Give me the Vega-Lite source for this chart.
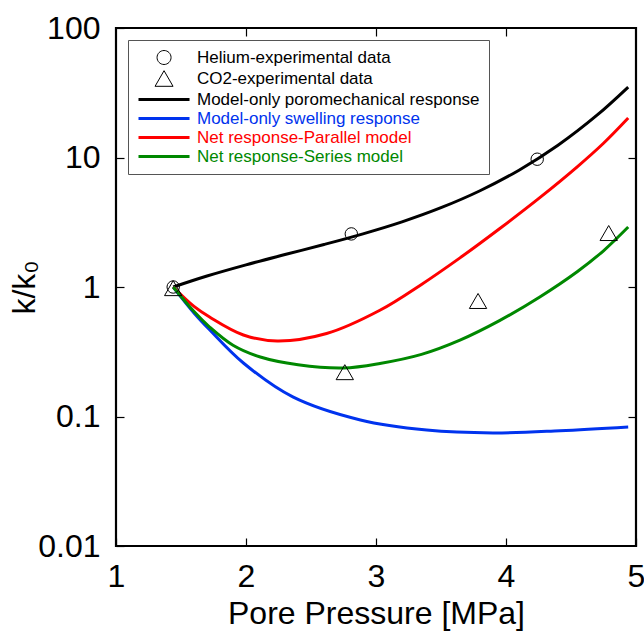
{
  "$schema": "https://vega.github.io/schema/vega-lite/v6.json",
  "width": 520,
  "height": 518,
  "autosize": "none",
  "padding": {"left": 116, "top": 28, "right": 8, "bottom": 87},
  "background": "white",
  "config": {
    "view": {"stroke": "black", "strokeWidth": 2.2},
    "font": "Liberation Sans",
    "axis": {
      "grid": false, "domain": false, "tickColor": "black", "tickWidth": 1.2,
      "labelColor": "black", "titleColor": "black",
      "labelFont": "Liberation Sans", "titleFont": "Liberation Sans",
      "labelFontSize": 32, "titleFontSize": 32, "titleFontWeight": "normal",
      "labelFlush": false, "labelOverlap": false
    },
    "legend": {
      "orient": "top-left", "offset": 12, "padding": 9,
      "strokeColor": "#555", "fillColor": "white",
      "symbolSize": 196, "labelFontSize": 17, "labelFont": "Liberation Sans",
      "labelOffset": 43, "rowPadding": 1, "labelLimit": 400
    }
  },
  "datasets": {
    "curves": [
      {"series": "Model-only poromechanical response", "p": 1.44, "k": 1.0},
      {"series": "Model-only poromechanical response", "p": 1.7, "k": 1.216},
      {"series": "Model-only poromechanical response", "p": 2.0, "k": 1.483},
      {"series": "Model-only poromechanical response", "p": 2.3, "k": 1.78},
      {"series": "Model-only poromechanical response", "p": 2.6, "k": 2.129},
      {"series": "Model-only poromechanical response", "p": 2.9, "k": 2.574},
      {"series": "Model-only poromechanical response", "p": 3.2, "k": 3.185},
      {"series": "Model-only poromechanical response", "p": 3.5, "k": 4.096},
      {"series": "Model-only poromechanical response", "p": 3.8, "k": 5.536},
      {"series": "Model-only poromechanical response", "p": 4.1, "k": 7.98},
      {"series": "Model-only poromechanical response", "p": 4.4, "k": 12.43},
      {"series": "Model-only poromechanical response", "p": 4.7, "k": 21.21},
      {"series": "Model-only poromechanical response", "p": 4.94, "k": 35.0},
      {"series": "Model-only swelling response", "p": 1.44, "k": 1.0},
      {"series": "Model-only swelling response", "p": 1.6, "k": 0.631},
      {"series": "Model-only swelling response", "p": 1.72, "k": 0.468},
      {"series": "Model-only swelling response", "p": 1.98, "k": 0.259},
      {"series": "Model-only swelling response", "p": 2.36, "k": 0.1416},
      {"series": "Model-only swelling response", "p": 2.88, "k": 0.094},
      {"series": "Model-only swelling response", "p": 3.39, "k": 0.0785},
      {"series": "Model-only swelling response", "p": 3.9, "k": 0.0746},
      {"series": "Model-only swelling response", "p": 4.415, "k": 0.0776},
      {"series": "Model-only swelling response", "p": 4.94, "k": 0.083},
      {"series": "Net response-Parallel model", "p": 1.44, "k": 1.0},
      {"series": "Net response-Parallel model", "p": 1.6, "k": 0.708},
      {"series": "Net response-Parallel model", "p": 1.72, "k": 0.586},
      {"series": "Net response-Parallel model", "p": 1.98, "k": 0.426},
      {"series": "Net response-Parallel model", "p": 2.24, "k": 0.383},
      {"series": "Net response-Parallel model", "p": 2.62, "k": 0.437},
      {"series": "Net response-Parallel model", "p": 3.03, "k": 0.661},
      {"series": "Net response-Parallel model", "p": 3.35, "k": 1.047},
      {"series": "Net response-Parallel model", "p": 3.646, "k": 1.679},
      {"series": "Net response-Parallel model", "p": 3.95, "k": 2.818},
      {"series": "Net response-Parallel model", "p": 4.26, "k": 4.898},
      {"series": "Net response-Parallel model", "p": 4.55, "k": 8.511},
      {"series": "Net response-Parallel model", "p": 4.75, "k": 12.88},
      {"series": "Net response-Parallel model", "p": 4.94, "k": 20.18},
      {"series": "Net response-Series model", "p": 1.44, "k": 1.0},
      {"series": "Net response-Series model", "p": 1.6, "k": 0.646},
      {"series": "Net response-Series model", "p": 1.72, "k": 0.491},
      {"series": "Net response-Series model", "p": 1.9, "k": 0.355},
      {"series": "Net response-Series model", "p": 2.11, "k": 0.288},
      {"series": "Net response-Series model", "p": 2.4, "k": 0.251},
      {"series": "Net response-Series model", "p": 2.75, "k": 0.237},
      {"series": "Net response-Series model", "p": 3.03, "k": 0.257},
      {"series": "Net response-Series model", "p": 3.35, "k": 0.302},
      {"series": "Net response-Series model", "p": 3.646, "k": 0.389},
      {"series": "Net response-Series model", "p": 3.95, "k": 0.55},
      {"series": "Net response-Series model", "p": 4.26, "k": 0.838},
      {"series": "Net response-Series model", "p": 4.55, "k": 1.318},
      {"series": "Net response-Series model", "p": 4.75, "k": 1.905},
      {"series": "Net response-Series model", "p": 4.94, "k": 2.904}
    ],
    "helium": [
      {"series": "Helium-experimental data", "p": 1.44, "k": 1.0},
      {"series": "Helium-experimental data", "p": 2.81, "k": 2.57},
      {"series": "Helium-experimental data", "p": 4.24, "k": 9.7}
    ],
    "co2": [
      {"series": "CO2-experimental data", "p": 1.44, "k": 0.98},
      {"series": "CO2-experimental data", "p": 2.76, "k": 0.22},
      {"series": "CO2-experimental data", "p": 3.785, "k": 0.78},
      {"series": "CO2-experimental data", "p": 4.79, "k": 2.61}
    ]
  },
  "layer": [
    {
      "data": {"name": "curves"},
      "mark": {"type": "line", "strokeWidth": 3, "interpolate": "catmull-rom"},
      "encoding": {
        "x": {
          "field": "p", "type": "quantitative",
          "scale": {"domain": [1, 5], "nice": false, "zero": false},
          "axis": {"orient": "bottom", "values": [1, 2, 3, 4, 5], "tickSize": -8, "labelPadding": 23, "title": "Pore Pressure [MPa]", "titlePadding": 6}
        },
        "y": {
          "field": "k", "type": "quantitative",
          "scale": {"type": "log", "domain": [0.01, 100], "nice": false},
          "axis": {"orient": "left", "values": [0.01, 0.1, 1, 10, 100], "format": "~g", "tickSize": -8, "labelPadding": 24, "title": "k/k₀", "titlePadding": -4}
        },
        "color": {
          "field": "series", "type": "nominal",
          "scale": {
            "domain": ["Helium-experimental data", "CO2-experimental data", "Model-only poromechanical response", "Model-only swelling response", "Net response-Parallel model", "Net response-Series model"],
            "range": ["black", "black", "black", "#0033ee", "#ff0000", "#008800"]
          },
          "legend": {
            "title": null,
            "encode": {
              "symbols": {"update": {
                "shape": {"signal": "datum.value === 'Helium-experimental data' ? 'M1.65,0A1,1 0 1,1 3.65,0A1,1 0 1,1 1.65,0Z' : datum.value === 'CO2-experimental data' ? 'M2.65,-1.114L1.364,1.114L3.936,1.114Z' : 'M-1,0H6.29'"},
                "strokeWidth": {"signal": "indexof(['Helium-experimental data','CO2-experimental data'], datum.value) >= 0 ? 1 : 3"},
                "fill": {"value": "transparent"},
                "stroke": {"scale": "color", "field": "value"},
                "size": {"value": 196},
                "opacity": {"value": 1}
              }},
              "labels": {"update": {"fill": {"scale": "color", "field": "value"}}}
            }
          }
        }
      }
    },
    {
      "data": {"name": "helium"},
      "mark": {"type": "point", "shape": "circle", "filled": false, "stroke": "black", "strokeWidth": 1, "size": 154, "opacity": 1},
      "encoding": {
        "x": {"field": "p", "type": "quantitative", "axis": {"orient": "top", "values": [2, 3, 4], "labels": false, "tickSize": -8, "title": null}},
        "y": {"field": "k", "type": "quantitative", "axis": {"orient": "right", "values": [0.1, 1, 10], "labels": false, "tickSize": -8, "title": null}}
      }
    },
    {
      "data": {"name": "co2"},
      "mark": {"type": "point", "shape": "triangle-up", "filled": false, "stroke": "black", "strokeWidth": 1, "size": 300, "opacity": 1},
      "encoding": {
        "x": {"field": "p", "type": "quantitative", "axis": null},
        "y": {"field": "k", "type": "quantitative", "axis": null}
      }
    }
  ],
  "resolve": {"axis": {"x": "independent", "y": "independent"}}
}
